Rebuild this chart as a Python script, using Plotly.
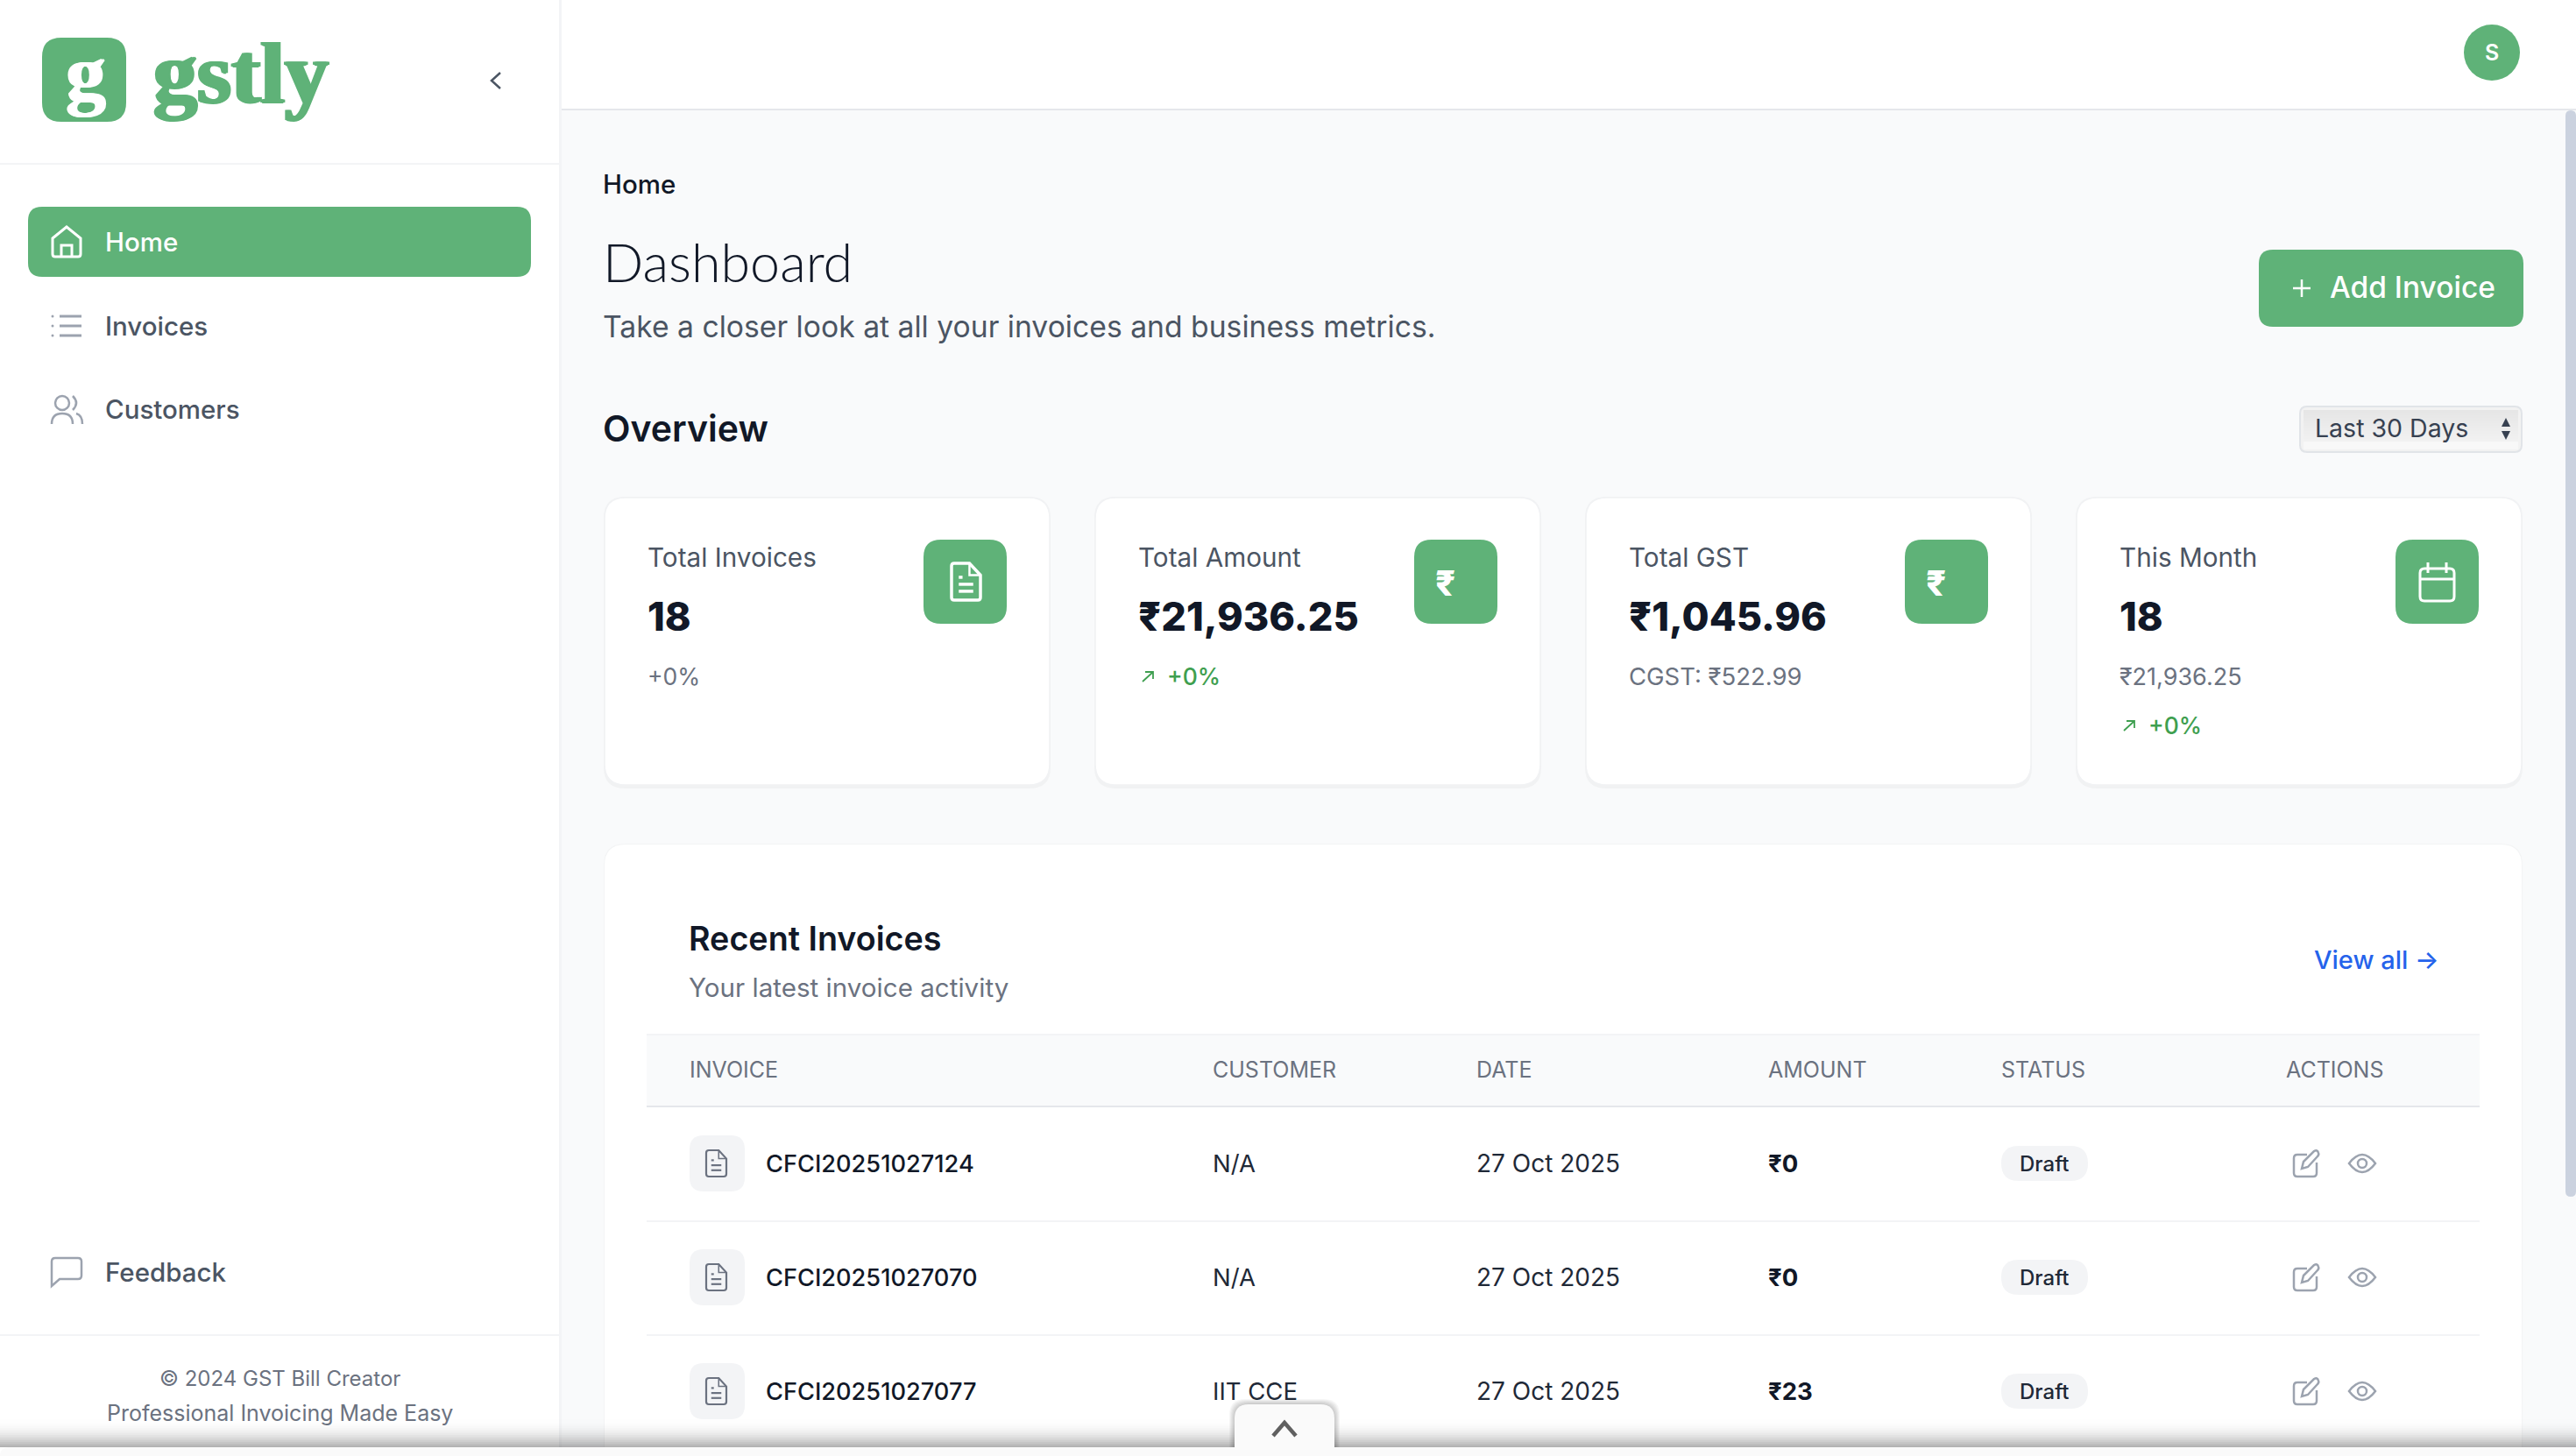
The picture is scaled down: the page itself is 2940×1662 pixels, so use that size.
import plotly.graph_objects as go

# teksty z ekranu
nav_labels = ['Home', 'Invoices', 'Customers']
card_titles = ['Total Invoices', 'Total Amount', 'Total GST', 'This Month']
card_values = ['18', '₹21,936.25', '₹1,045.96', '18']
card_subs = ['+0%', '+0%', 'CGST: ₹522.99', '₹21,936.25']
table_headers = ['INVOICE', 'CUSTOMER', 'DATE', 'AMOUNT', 'STATUS', 'ACTIONS']
invoice_ids = ['CFCI20251027124', 'CFCI20251027070', 'CFCI20251027077']
customers = ['N/A', 'N/A', 'IIT CCE']
dates = ['27 Oct 2025', '27 Oct 2025', '27 Oct 2025']
amounts = ['₹0', '₹0', '₹23']
statuses = ['Draft', 'Draft', 'Draft']

W, H = 2940, 1662
FONT = 'Inter'
GREEN = '#5fb278'
DARK = '#111827'
TEXT = '#4b5563'
MUTED = '#6b7280'
ICON = '#9ca3af'
UP = '#3f9f50'

shapes = []
notes = []


def rr(x0, y0, x1, y1, r, top_only=False):
    p = f'M{x0+r},{y0} L{x1-r},{y0} Q{x1},{y0} {x1},{y0+r} '
    if top_only:
        p += f'L{x1},{y1} L{x0},{y1} '
    else:
        p += f'L{x1},{y1-r} Q{x1},{y1} {x1-r},{y1} L{x0+r},{y1} Q{x0},{y1} {x0},{y1-r} '
    return p + f'L{x0},{y0+r} Q{x0},{y0} {x0+r},{y0} Z'


def box(x0, y0, x1, y1, fill, r=0, line=None, lw=0, top_only=False):
    shapes.append(dict(type='path', path=rr(x0, y0, x1, y1, r, top_only), fillcolor=fill, layer='above',
                       line=dict(color=line or 'rgba(0,0,0,0)', width=lw)))


def stroke(path, color, lw=2.5, fill='rgba(0,0,0,0)'):
    shapes.append(dict(type='path', path=path, fillcolor=fill, layer='above', line=dict(color=color, width=lw)))


def dot(cx, cy, r, color=None, fill='rgba(0,0,0,0)', lw=2.5):
    shapes.append(dict(type='circle', x0=cx-r, x1=cx+r, y0=cy-r, y1=cy+r, fillcolor=fill, layer='above',
                       line=dict(color=color or 'rgba(0,0,0,0)', width=lw)))


def text(x, y, s, size, color, weight=400, anchor='left', family=FONT, shadow='none'):
    # Inter ma wiekszy margines z lewej niz oryginal
    if anchor == 'left':
        x -= 1
    notes.append(dict(x=x, y=y, text=s, showarrow=False, xanchor=anchor, yanchor='middle', borderpad=0,
                      font=dict(family=family, size=size, color=color, weight=weight, shadow=shadow)))


def doc_icon(x0, y0, x1, y1, color, lw):
    w, h = x1-x0, y1-y0
    stroke(f'M{x0+3},{y0} L{x0+.62*w},{y0} L{x1},{y0+.32*h} L{x1},{y1-3} Q{x1},{y1} {x1-3},{y1} '
           f'L{x0+3},{y1} Q{x0},{y1} {x0},{y1-3} L{x0},{y0+3} Q{x0},{y0} {x0+3},{y0} Z', color, lw)
    stroke(f'M{x0+.62*w},{y0} L{x0+.62*w},{y0+.32*h} L{x1},{y0+.32*h}', color, lw*.7)
    stroke(f'M{x0+.25*w},{y0+.38*h} L{x0+.38*w},{y0+.38*h}', color, lw)
    stroke(f'M{x0+.25*w},{y0+.57*h} L{x1-.25*w},{y0+.57*h}', color, lw)
    stroke(f'M{x0+.25*w},{y0+.76*h} L{x1-.25*w},{y0+.76*h}', color, lw)


def up_arrow(x0, y0, x1, y1):
    stroke(f'M{x0},{y1} L{x1},{y0} M{x0+3},{y0} L{x1},{y0} L{x1},{y1-3}', UP, 1.8)


# tlo
box(0, 0, W, H, '#f9fafb')
box(0, 0, 638, H, '#ffffff')
box(638, 0, 641, H, '#f3f4f6')
box(641, 0, W, 124, '#ffffff')
box(641, 124, W, 126, '#e5e7eb')
box(2928, 126, 2940, 1366, '#cbd2df', r=6)

# sidebar
box(48, 43, 144, 139, GREEN, r=22)
text(97, 84, 'g', 90, '#ffffff', 700, 'center', 'Liberation Serif', '2px 0 0 #ffffff, -1px 0 0 #ffffff')
text(175, 83, 'gstly', 100, GREEN, 700, 'left', 'Liberation Serif',
     f'2px 0 0 {GREEN}, -2px 0 0 {GREEN}, 0 1px 0 {GREEN}')
stroke('M571,83 L561,92 L571,101', '#4b5563', 2.5)
box(0, 186, 638, 188, '#f3f4f6')

box(32, 236, 606, 316, GREEN, r=16)
stroke('M60,272 L76,259 L92,272 L92,290 Q92,293 89,293 L63,293 Q60,293 60,290 Z M70,293 L70,280 L82,280 L82,293',
       '#ffffff', 3)
stroke('M68,361 L93,361 M68,372 L93,372 M68,383 L93,383', ICON, 3)
for yy in [361, 372, 383]:
    dot(60, yy, 1.5, fill=ICON, lw=0)
dot(71, 460, 8, color=ICON)
stroke('M83,452 Q91,460 83,468', ICON)
stroke('M59,484 Q59,472 71,472 Q83,472 83,484', ICON)
stroke('M87,472 Q94,474 94,484', ICON)
stroke('M59,1440 Q59,1436 63,1436 L89,1436 Q93,1436 93,1440 L93,1456 Q93,1460 89,1460 L68,1460 L59,1468 Z', ICON)

for label, yy, col in zip(nav_labels, [276, 372, 467], ['#ffffff', TEXT, TEXT]):
    text(120, yy, label, 29.5, col, 500)
text(120, 1452, 'Feedback', 29.5, TEXT, 500)
box(0, 1523, 638, 1525, '#f3f4f6')
text(319, 1573, '© 2024 GST Bill Creator', 24, MUTED, 400, 'center')
text(319, 1613, 'Professional Invoicing Made Easy', 25, MUTED, 400, 'center')

# naglowek
dot(2844, 60, 32, fill=GREEN, lw=0)
text(2844, 60, 'S', 25, '#ffffff', 600, 'center')
text(688, 210, 'Home', 29.5, DARK, 500)
text(688, 298, 'Dashboard', 61, DARK, 300, 'left', 'Lato')
text(688, 372, 'Take a closer look at all your invoices and business metrics.', 33.7, TEXT)
box(2578, 285, 2880, 373, GREEN, r=16)
stroke('M2617,329 L2637,329 M2627,319 L2627,339', '#ffffff', 2.5)
text(2659, 328, 'Add Invoice', 33.5, '#ffffff', 500)

text(688, 489, 'Overview', 41, DARK, 600)
box(2625, 464, 2878, 516, '#f2f2f2', r=8, line='#e1e4e8', lw=2)
for i in range(12):
    shade = 230 + i
    box(2629, 468 + 3*i, 2874, 471 + 3*i, f'rgb({shade},{shade},{shade})')
for i in range(3):
    box(2629, 504 + 3*i, 2874, 507 + 3*i, '#f8f8f8')
text(2642, 488, 'Last 30 Days', 28.5, '#374151')
stroke('M2855,487 L2860,477 L2865,487 Z', '#374151', 0, '#374151')
stroke('M2855,492 L2860,502 L2865,492 Z', '#374151', 0, '#374151')

# karty
card_left = [690, 1250, 1810, 2370]
for i, cx in enumerate(card_left):
    box(cx-1, 567, cx+509, 900, 'rgba(0,0,0,0.03)', r=24)
    box(cx, 568, cx+508, 896, '#ffffff', r=24, line='#f1f2f4', lw=1.5)
    box(cx+364, 616, cx+459, 712, GREEN, r=20)
    text(cx+49, 636, card_titles[i], 29.7, TEXT)
    text(cx+49, 703, card_values[i], 45, DARK, 800)
doc_icon(1086, 643, 1119, 685, '#ffffff', 3.5)
text(1649, 665, '₹', 40, '#ffffff', 800, 'center')
text(2209, 665, '₹', 40, '#ffffff', 800, 'center')
stroke(rr(2762, 649, 2801, 686, 5) + ' M2762,661 L2801,661 M2771,642 L2771,654 M2792,642 L2792,654', '#ffffff', 3)

text(739, 772, card_subs[0], 26.5, MUTED)
up_arrow(1304, 767, 1316, 778)
text(1332, 772, card_subs[1], 26.5, UP, 500)
text(1859, 772, card_subs[2], 27.5, MUTED)
text(2419, 772, card_subs[3], 27, MUTED)
up_arrow(2424, 823, 2436, 834)
text(2452, 828, '+0%', 26.5, UP, 500)

# tabela
box(689, 963, 2879, H, 'rgba(0,0,0,0.025)', r=24, top_only=True)
box(690, 964, 2878, H, '#ffffff', r=24, top_only=True)
text(786, 1071, 'Recent Invoices', 37.7, DARK, 600)
text(786, 1127, 'Your latest invoice activity', 29.6, MUTED)
text(2641, 1095, 'View all →', 29, '#2563eb', 500)

box(738, 1180, 2830, 1262, '#f9fafb')
box(738, 1180, 2830, 1182, '#f3f4f6')
box(738, 1262, 2830, 1264, '#e5e7eb')
col_x = [787, 1384, 1685, 2018, 2284, 2609]
for hdr, xx in zip(table_headers, col_x):
    text(xx, 1221, hdr, 25, MUTED, 400)

row_y = [1328, 1458, 1588]
for i, yy in enumerate(row_y):
    if i < 2:
        box(738, yy+65, 2830, yy+67, '#f3f4f6')
    box(787, yy-32, 850, yy+32, '#f3f4f6', r=16)
    doc_icon(806, yy-15, 829, yy+15, MUTED, 2.2)
    text(col_x[0]+87, yy, invoice_ids[i], 27.2, DARK, 500)
    text(col_x[1], yy, customers[i], 27.5, '#1f2937')
    text(col_x[2], yy, dates[i], 28, '#1f2937')
    text(col_x[3], yy, amounts[i], 27.5, DARK, 700)
    box(2284, yy-20, 2383, yy+20, '#f3f4f6', r=20)
    text(2333, yy, statuses[i], 24, '#1f2937', 500, 'center')
    stroke(f'M2633,{yy-10} L2622,{yy-10} Q2618,{yy-10} 2618,{yy-6} L2618,{yy+11} Q2618,{yy+15} 2622,{yy+15} '
           f'L2640,{yy+15} Q2644,{yy+15} 2644,{yy+11} L2644,{yy-1}', ICON)
    stroke(f'M2627,{yy+6} L2629,{yy-2} L2641,{yy-14} Q2645,{yy-16} 2646,{yy-12} Q2647,{yy-10} 2645,{yy-8} '
           f'L2634,{yy+4} Z', ICON)
    stroke(f'M2681,{yy} Q2696,{yy-20} 2711,{yy} Q2696,{yy+20} 2681,{yy} Z', ICON)
    dot(2696, yy, 5, color=ICON)

# dolny cien i zakladka
for i in range(16):
    box(0, 1620 + 2*i, W, 1622 + 2*i, f'rgba(0,0,0,{0.004 + 0.0013*i*i:.4f})')
for i in range(6):
    box(1409-6+i, 1603-6+i, 1523+6-i, 1652, 'rgba(0,0,0,0.035)', r=18, top_only=True)
box(1409, 1603, 1523, 1652, '#fafafa', r=16, top_only=True)
box(0, 1652, W, H, '#fafafa', r=10, top_only=True)
stroke('M1453,1639 L1466,1624 L1479,1639', '#606060', 4.5)

fig = go.Figure()
fig.update_layout(width=W, height=H, margin=dict(l=0, r=0, t=0, b=0), showlegend=False,
                  paper_bgcolor='#ffffff', plot_bgcolor='#ffffff', shapes=shapes, annotations=notes,
                  xaxis=dict(range=[0, W], visible=False, fixedrange=True),
                  yaxis=dict(range=[H, 0], visible=False, fixedrange=True))
fig.write_html('out.html', config=dict(displayModeBar=False),
               post_script="document.body.style.margin='0';document.body.style.overflow='hidden';")
